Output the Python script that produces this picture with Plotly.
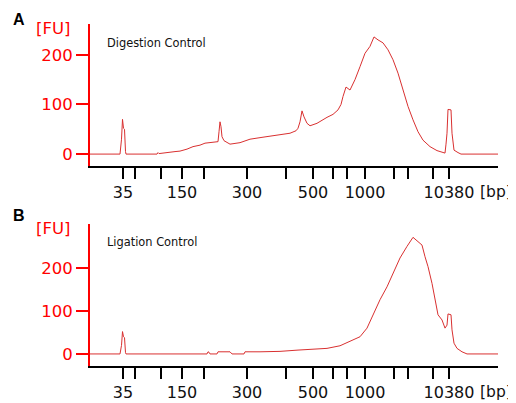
import plotly.graph_objects as go

# Ladder (migration position units) and bp labels
ladder_pos = [123, 135, 161, 182, 204, 247, 286, 313, 333, 347, 365, 394, 408, 433, 449]
ladder_text = ["35", "", "", "150", "", "300", "", "500", "", "", "1000", "", "", "", "10380"]

# Digestion Control electropherogram
dig_pos = [90, 120, 121.5, 122.5, 123.5, 124.5, 125.5, 126, 157, 158, 159, 165, 175, 180, 187, 193,
           200, 205, 212, 218, 219, 220, 221, 222, 224, 230, 240, 250, 263, 277, 290, 296, 298, 300,
           302, 304, 307, 310, 317, 327, 333, 338, 341, 343, 346, 350, 355, 360, 365, 370, 374, 378,
           383, 388, 393, 398, 403, 408, 413, 418, 423, 430, 437, 443, 445, 446, 447, 448, 451, 452,
           454, 458, 461, 498]
dig_fu = [0, 0, 30, 70, 52, 50, 5, 0, 0, 3, 1, 3, 5, 6, 10, 15,
          18, 22, 24, 25, 45, 65, 55, 35, 27, 20, 23, 30, 34, 38, 42, 47, 52, 65,
          87, 75, 62, 57, 62, 74, 80, 89, 100, 116, 135, 129, 150, 176, 203, 217, 236, 230,
          224, 210, 190, 163, 129, 96, 69, 45, 28, 15, 7, 3, 2, 20, 42, 90, 89, 42,
          8, 3, 0, 0]

# Ligation Control electropherogram
lig_pos = [90, 120, 121.5, 122.5, 123.5, 124.5, 125.5, 126, 207, 208, 209, 210, 217, 218, 230, 231,
           232, 244, 245, 260, 280, 298, 310, 327, 340, 350, 360, 367, 373, 380, 387, 393, 400, 407,
           413, 418, 422, 425, 428, 432, 435, 438, 442, 445, 447, 448, 451, 452, 454, 457, 462, 467, 498]
lig_fu = [0, 0, 20, 52, 40, 38, 3, 0, 0, 5, 4, 0, 0, 5, 5, 2,
          0, 0, 5, 5, 6, 9, 11, 13, 19, 29, 40, 60, 91, 126, 156, 188, 223, 250,
          271, 261, 253, 226, 203, 164, 126, 91, 79, 60, 67, 93, 91, 56, 25, 13, 5, 0, 0]

panels = [("Digestion Control", "A"), ("Ligation Control", "B")]

OFF = 8  # default page body margin offset
W, H = 516 - OFF, 403 - OFF
ML, MR, MT, MB = 90 - OFF, 18, 24 - OFF, 37
PH = H - MT - MB
red = "#ff0000"
trace_col = "#d93030"
tick_font = dict(family="DejaVu Sans", size=16)

fig = go.Figure()
fig.add_trace(go.Scatter(x=dig_pos, y=dig_fu, mode="lines", line=dict(color=trace_col, width=1),
                         xaxis="x", yaxis="y", showlegend=False, hoverinfo="skip"))
fig.add_trace(go.Scatter(x=lig_pos, y=lig_fu, mode="lines", line=dict(color=trace_col, width=1),
                         xaxis="x2", yaxis="y2", showlegend=False, hoverinfo="skip"))

def px_y(py):
    # py in reference (window) pixels
    return (H - MB - (py - OFF)) / PH

def ax(px):
    return (px - OFF - ML) / (W - ML - MR)

top_dom = [px_y(166), 1.0]
bot_dom = [0.0, px_y(224)]

xaxis_common = dict(
    range=[90, 498], showgrid=False, zeroline=False, showline=True, linecolor="black", linewidth=2,
    ticks="outside", ticklen=11, tickwidth=2, tickcolor="black",
    tickmode="array", tickvals=ladder_pos, ticktext=ladder_text,
    tickfont=dict(color="#111111", **tick_font), ticklabelstandoff=0,
)
yaxis_common = dict(
    showgrid=False, zeroline=False, showline=True, linecolor=red, linewidth=2,
    ticks="outside", ticklen=12, tickwidth=2, tickcolor=red,
    tickmode="array", tickvals=[0, 100, 200], ticktext=["0", "100", "200"],
    tickfont=dict(color=red, family="DejaVu Sans", size=16.5), ticklabelstandoff=0,
)

fig.update_layout(
    width=W, height=H,
    margin=dict(l=ML, r=MR, t=MT, b=MB, autoexpand=False),
    paper_bgcolor="white", plot_bgcolor="white",
    xaxis=dict(domain=[0, 1], anchor="y", **xaxis_common),
    yaxis=dict(domain=top_dom, anchor="x", range=[-24, 262], **yaxis_common),
    xaxis2=dict(domain=[0, 1], anchor="y2", **xaxis_common),
    yaxis2=dict(domain=bot_dom, anchor="x2", range=[-28, 302], **yaxis_common),
)

ann = []
for (title, letter), fu_y, tit_y, bp_top, let_y in zip(
        panels, [28, 228], [43, 242], [181, 381], [20, 215]):
    ann.append(dict(text="[FU]", x=ax(34), y=px_y(fu_y), xref="paper", yref="paper",
                    xanchor="left", yanchor="middle", showarrow=False,
                    font=dict(family="DejaVu Sans", size=16.5, color=red)))
    ann.append(dict(text=title, x=ax(105), y=px_y(tit_y), xref="paper", yref="paper",
                    xanchor="left", yanchor="middle", showarrow=False,
                    font=dict(family="DejaVu Sans", size=11.4, color="#111111")))
    ann.append(dict(text="[bp]", x=ax(478), y=px_y(bp_top), xref="paper", yref="paper",
                    xanchor="left", yanchor="top", showarrow=False,
                    font=dict(color="#111111", family="DejaVu Sans", size=15.5)))
    ann.append(dict(text="<b>" + letter + "</b>", x=ax(11), y=px_y(let_y), xref="paper", yref="paper",
                    xanchor="left", yanchor="middle", showarrow=False,
                    font=dict(family="Liberation Sans", size=16, color="black")))
fig.update_layout(annotations=ann)

fig.write_html("out.html")
